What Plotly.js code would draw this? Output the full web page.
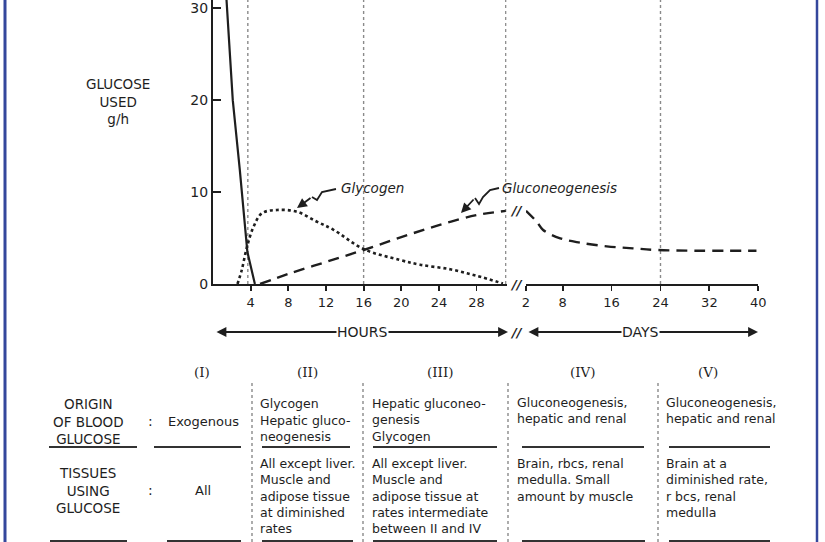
<!DOCTYPE html>
<html>
<head>
<meta charset="utf-8">
<script src="https://cdn.plot.ly/plotly-3.0.1.min.js"></script>
<style>html,body{margin:0;padding:0;background:#fff;}#chart{width:825px;height:542px;}</style>
</head>
<body>
<div id="chart"></div>
<script>
// ---- data ----
const exoHours = [1.4, 2.1, 2.85, 3.4, 3.65, 4.45];
const exoRate  = [31.5, 20, 12.4, 5.9, 3.5, 0];

const glyHours = [2.6, 3.05, 3.6, 4.3, 5.2, 6.8, 8.9, 11.0, 12.8, 16.0, 19.9, 22.0, 25.2, 28.0, 30.8];
const glyRate  = [0, 1.5, 4.0, 6.2, 7.7, 8.05, 7.87, 6.8, 5.9, 3.8, 2.6, 2.1, 1.6, 0.9, 0.05];

const gngHours = [5.0, 8, 12, 16, 20, 24, 28, 31.1];
const gngRate  = [0, 1.1, 2.4, 3.7, 5.1, 6.4, 7.5, 7.95];

const gngDays     = [2.0, 3.75, 4.8, 7.6, 10.8, 15.2, 19.5, 23.4, 30.5, 39.7];
const gngDaysRate = [7.97, 6.78, 5.88, 4.97, 4.5, 4.1, 3.88, 3.7, 3.62, 3.62];

const hourTicks = [4, 8, 12, 16, 20, 24, 28];
const dayTicks  = [2, 8, 16, 24, 32, 40];
const rateTicks = [0, 10, 20, 30];

const phaseBoundHours = [3.7, 16, 31.1];
const phaseBoundDays  = [24];

const phases = ['(I)', '(II)', '(III)', '(IV)', '(V)'];
const originLabel = ['ORIGIN', 'OF BLOOD', 'GLUCOSE'];
const tissuesLabel = ['TISSUES', 'USING', 'GLUCOSE'];
const originText = [
  ['Exogenous'],
  ['Glycogen', 'Hepatic gluco-', 'neogenesis'],
  ['Hepatic gluconeo-', 'genesis', 'Glycogen'],
  ['Gluconeogenesis,', 'hepatic and renal'],
  ['Gluconeogenesis,', 'hepatic and renal']
];
const tissuesText = [
  ['All'],
  ['All except liver.', 'Muscle and', 'adipose tissue', 'at diminished', 'rates'],
  ['All except liver.', 'Muscle and', 'adipose tissue at', 'rates intermediate', 'between II and IV'],
  ['Brain, rbcs, renal', 'medulla. Small', 'amount by muscle'],
  ['Brain at a', 'diminished rate,', 'r bcs, renal', 'medulla']
];

// ---- layout helpers (pixel -> paper) ----
const W = 825, H = 542;
const X = px => px / W;
const Y = py => 1 - py / H;
const FONT = 'DejaVu Sans, sans-serif';
const INK = '#1e1e1e';

const traces = [
  {x: exoHours, y: exoRate, xaxis: 'x', yaxis: 'y', mode: 'lines',
   line: {color: INK, width: 2.2}, hoverinfo: 'skip'},
  {x: glyHours, y: glyRate, xaxis: 'x', yaxis: 'y', mode: 'lines',
   line: {color: INK, width: 2.6, dash: 'dot', shape: 'spline'}, hoverinfo: 'skip'},
  {x: gngHours, y: gngRate, xaxis: 'x', yaxis: 'y', mode: 'lines',
   line: {color: INK, width: 2.4, dash: '11px,7px', shape: 'spline'}, hoverinfo: 'skip'},
  {x: gngDays, y: gngDaysRate, xaxis: 'x2', yaxis: 'y', mode: 'lines',
   line: {color: INK, width: 2.4, dash: '11px,7px', shape: 'spline'}, hoverinfo: 'skip'}
];

const shapes = [];
const annotations = [];

// phase boundary dotted lines in the plot
phaseBoundHours.forEach(h => shapes.push({type: 'line', xref: 'x', yref: 'y', x0: h, x1: h, y0: 0, y1: 30.9,
  line: {color: '#8a8a8a', width: 1.4, dash: 'dot'}, layer: 'below'}));
phaseBoundDays.forEach(d => shapes.push({type: 'line', xref: 'x2', yref: 'y', x0: d, x1: d, y0: 0, y1: 30.9,
  line: {color: '#8a8a8a', width: 1.4, dash: 'dot'}, layer: 'below'}));

// blue frame
shapes.push({type: 'line', xref: 'paper', yref: 'paper', x0: X(5), x1: X(5), y0: 0, y1: 1, line: {color: '#34479c', width: 3}});
shapes.push({type: 'line', xref: 'paper', yref: 'paper', x0: X(817), x1: X(817), y0: 0, y1: 1, line: {color: '#34479c', width: 2.5}});

function txt(text, px, py, opts) {
  annotations.push(Object.assign({xref: 'paper', yref: 'paper', x: X(px), y: Y(py), text: text,
    showarrow: false, xanchor: 'center', yanchor: 'middle', borderpad: 0,
    font: {family: FONT, size: 13, color: INK}}, opts || {}));
}
function arrowOnly(hx, hy, tx, ty, side) {
  annotations.push({xref: 'paper', yref: 'paper', x: X(hx), y: Y(hy), ax: tx - hx, ay: ty - hy, text: '',
    showarrow: true, arrowhead: 2, arrowsize: 1.1, arrowwidth: 1.8, arrowcolor: INK, arrowside: side || 'end'});
}
function squiggle(pts) {
  const d = pts.map((p, i) => (i ? 'L' : 'M') + X(p[0]).toFixed(5) + ',' + Y(p[1]).toFixed(5)).join(' ');
  shapes.push({type: 'path', xref: 'paper', yref: 'paper', path: d, line: {color: INK, width: 1.8}});
}

// y axis title
txt(['GLUCOSE', 'USED', 'g/h'].join('<br>'), 118, 101, {font: {family: FONT, size: 13.5, color: INK}});

// curve labels with squiggly arrows
txt('Glycogen', 340, 188, {xanchor: 'left', font: {family: FONT, size: 13.5, color: INK, style: 'italic'}});
squiggle([[336, 189], [322, 192], [317, 200], [312, 197]]);
arrowOnly(297, 208, 312, 197);
txt('Gluconeogenesis', 501, 188, {xanchor: 'left', font: {family: FONT, size: 13.5, color: INK, style: 'italic'}});
squiggle([[499, 188], [490, 190], [483, 197], [479, 204], [475, 198]]);
arrowOnly(461, 213, 475, 198);

// axis break marks
const brk = {font: {family: FONT, size: 13, color: INK, weight: 'bold', style: 'italic'}};
txt('//', 516, 211, brk);
txt('//', 516, 284, brk);
txt('//', 516, 332, brk);

// HOURS / DAYS arrows
arrowOnly(508, 332, 215, 332, 'end+start');
txt('HOURS', 362, 332, {bgcolor: '#ffffff', font: {family: FONT, size: 14, color: INK}});
arrowOnly(758, 332, 527, 332, 'end+start');
txt('DAYS', 640, 332, {bgcolor: '#ffffff', font: {family: FONT, size: 14, color: INK}});

// table
const phaseX = [202, 307, 440, 583, 708];
phases.forEach((p, i) => txt(p, phaseX[i], 372, {font: {family: 'DejaVu Serif, serif', size: 13.5, color: INK}}));

txt(originLabel.join('<br>'), 88, 421, {font: {family: FONT, size: 13.5, color: INK}});
txt(tissuesLabel.join('<br>'), 88, 490, {font: {family: FONT, size: 13.5, color: INK}});
txt(':', 150, 421, {font: {family: FONT, size: 14, color: INK}});
txt(':', 150, 490, {font: {family: FONT, size: 14, color: INK}});

const body = {family: FONT, size: 12.5, color: INK};
const colLeft = [null, 259, 371, 516, 665];
// origin row
txt(originText[0][0], 203, 421, {font: {family: FONT, size: 13, color: INK}});
txt(originText[1][0], colLeft[1], 403, {xanchor: 'left', font: body});
txt(originText[1].slice(1).join('<br>'), colLeft[1], 412, {xanchor: 'left', yanchor: 'top', align: 'left', font: body});
[2, 3, 4].forEach(c => txt(originText[c].join('<br>'), colLeft[c], c === 2 ? 395 : 394,
  {xanchor: 'left', yanchor: 'top', align: 'left', font: body}));
// tissues row
txt(tissuesText[0][0], 203, 490, {font: {family: FONT, size: 13, color: INK}});
[1, 2, 3, 4].forEach(c => txt(tissuesText[c].join('<br>'), colLeft[c], 455,
  {xanchor: 'left', yanchor: 'top', align: 'left', font: body}));

// table rules
const rule1 = [[49, 137], [154, 241], [262, 350], [373, 497], [522, 644], [669, 770]];
const rule2 = [[50, 127], [167, 241], [262, 353], [373, 497], [522, 645], [669, 770]];
rule1.forEach(r => shapes.push({type: 'line', xref: 'paper', yref: 'paper', x0: X(r[0]), x1: X(r[1]), y0: Y(447), y1: Y(447), line: {color: '#333', width: 2.2}}));
rule2.forEach(r => shapes.push({type: 'line', xref: 'paper', yref: 'paper', x0: X(r[0]), x1: X(r[1]), y0: Y(541), y1: Y(541), line: {color: '#333', width: 2.2}}));
[252, 363, 508, 658].forEach(px => shapes.push({type: 'line', xref: 'paper', yref: 'paper', x0: X(px), x1: X(px), y0: Y(383), y1: 0,
  line: {color: '#8a8a8a', width: 1.4, dash: 'dot'}}));

const axisCommon = {showgrid: false, zeroline: false, showline: true, linecolor: INK, linewidth: 2,
  ticks: 'outside', ticklen: 5, tickwidth: 1.8, tickcolor: INK, tickfont: {family: FONT, size: 13, color: INK}, fixedrange: true};

const layout = {
  width: W, height: H,
  margin: {l: 0, r: 0, t: 0, b: 0, pad: 0},
  paper_bgcolor: '#ffffff', plot_bgcolor: 'rgba(0,0,0,0)',
  showlegend: false,
  xaxis: Object.assign({}, axisCommon, {domain: [X(213), X(506.7)], range: [0, 31.2], tickvals: hourTicks, anchor: 'y'}),
  xaxis2: Object.assign({}, axisCommon, {domain: [X(526), X(758.3)], range: [2, 40], tickvals: dayTicks, anchor: 'y'}),
  yaxis: Object.assign({}, axisCommon, {domain: [Y(284), 1], range: [0, 30.9], tickvals: rateTicks, ticks: 'inside', ticklen: 8,
    tickfont: {family: FONT, size: 14, color: INK}}),
  shapes: shapes,
  annotations: annotations
};

Plotly.newPlot('chart', traces, layout, {displayModeBar: false, staticPlot: true});
</script>
</body>
</html>
